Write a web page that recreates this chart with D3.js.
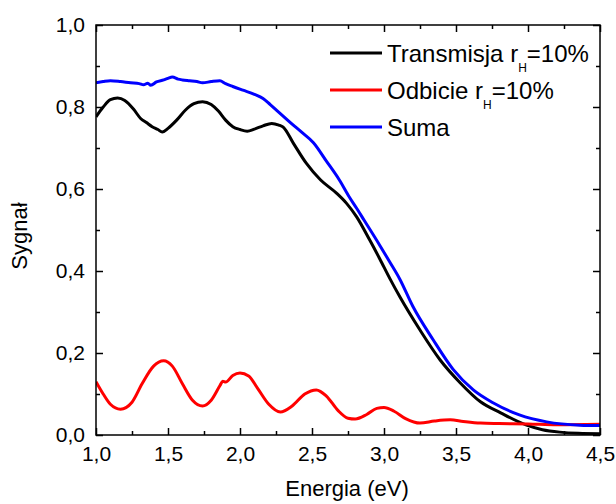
<!DOCTYPE html>
<html>
<head>
<meta charset="utf-8">
<script src="https://cdn.jsdelivr.net/npm/d3@7"></script>
<style>
  body { margin: 0; background: #fff; }
  svg text { font-family: "Liberation Sans", Arial, sans-serif; fill: #000; }
</style>
</head>
<body>
<div id="chart"></div>
<script>
// Transmisja (black)
var transE = [1.0, 1.05, 1.1, 1.15, 1.2, 1.26, 1.31, 1.35, 1.39, 1.43, 1.46, 1.5, 1.56, 1.62, 1.68, 1.74, 1.8, 1.85, 1.9, 1.95, 2.0, 2.05, 2.1, 2.16, 2.22, 2.27, 2.3, 2.37, 2.46, 2.56, 2.67, 2.74, 2.81, 2.9, 2.97, 3.04, 3.11, 3.25, 3.39, 3.53, 3.67, 3.81, 3.99, 4.1, 4.22, 4.35, 4.5];
var transS = [0.776, 0.8, 0.818, 0.822, 0.816, 0.795, 0.772, 0.762, 0.752, 0.745, 0.739, 0.748, 0.768, 0.792, 0.808, 0.813, 0.806, 0.79, 0.768, 0.752, 0.745, 0.741, 0.746, 0.754, 0.76, 0.756, 0.751, 0.712, 0.663, 0.622, 0.59, 0.565, 0.532, 0.476, 0.43, 0.382, 0.337, 0.256, 0.183, 0.127, 0.081, 0.054, 0.024, 0.013, 0.007, 0.004, 0.003];

// Odbicie (red)
var odbE = [1.0, 1.05, 1.1, 1.17, 1.25, 1.32, 1.4, 1.47, 1.53, 1.6, 1.67, 1.74, 1.8, 1.86, 1.88, 1.9, 1.95, 2.0, 2.06, 2.12, 2.2, 2.28, 2.36, 2.45, 2.53, 2.6, 2.68, 2.75, 2.8, 2.88, 2.95, 3.0, 3.07, 3.15, 3.25, 3.35, 3.46, 3.55, 3.67, 3.8, 4.0, 4.2, 4.5];
var odbS = [0.13, 0.1, 0.075, 0.063, 0.08, 0.125, 0.168, 0.181, 0.168, 0.125, 0.085, 0.071, 0.085, 0.12, 0.131, 0.129, 0.145, 0.151, 0.144, 0.115, 0.075, 0.056, 0.07, 0.1, 0.11, 0.095, 0.06, 0.041, 0.039, 0.05, 0.065, 0.067, 0.058, 0.04, 0.029, 0.034, 0.037, 0.033, 0.029, 0.028, 0.027, 0.025, 0.026];

// Suma (blue)
var sumaE = [1.0, 1.05, 1.1, 1.17, 1.24, 1.3, 1.33, 1.36, 1.38, 1.42, 1.47, 1.5, 1.53, 1.57, 1.6, 1.65, 1.7, 1.74, 1.8, 1.86, 1.9, 1.95, 2.02, 2.1, 2.16, 2.21, 2.28, 2.35, 2.43, 2.51, 2.6, 2.69, 2.76, 2.81, 2.86, 2.97, 3.04, 3.11, 3.2, 3.34, 3.48, 3.62, 3.76, 3.94, 4.13, 4.36, 4.5];
var sumaS = [0.859, 0.862, 0.864, 0.862, 0.859, 0.857, 0.854, 0.858, 0.853, 0.861, 0.866, 0.87, 0.873, 0.868, 0.866, 0.864, 0.862, 0.859, 0.862, 0.864, 0.857, 0.85, 0.841, 0.831, 0.821, 0.806, 0.784, 0.762, 0.738, 0.713, 0.668, 0.622, 0.58, 0.553, 0.525, 0.463, 0.422, 0.38, 0.314, 0.233, 0.16, 0.11, 0.078, 0.049, 0.032, 0.024, 0.023];

var xTicks = [1.0, 1.5, 2.0, 2.5, 3.0, 3.5, 4.0, 4.5];
var yTicks = [0.0, 0.2, 0.4, 0.6, 0.8, 1.0];

var series = [
  { name: "Transmisja r", sub: "H", tail: "=10%", color: "#000000", e: transE, s: transS },
  { name: "Odbicie r", sub: "H", tail: "=10%", color: "#ff0000", e: odbE, s: odbS },
  { name: "Suma", sub: "", tail: "", color: "#0000ff", e: sumaE, s: sumaS }
];

var W = 616, H = 504;
var margin = { top: 25, right: 16, bottom: 69, left: 96 };
var w = W - margin.left - margin.right;
var h = H - margin.top - margin.bottom;

var svg = d3.select("#chart").append("svg")
  .attr("width", W)
  .attr("height", H);

var g = svg.append("g")
  .attr("transform", "translate(" + margin.left + "," + margin.top + ")");

var x = d3.scaleLinear().domain([1.0, 4.5]).range([0, w]);
var y = d3.scaleLinear().domain([0, 1.0]).range([h, 0]);

var fmt = function(d) { return d3.format(".1f")(d).replace(".", ","); };

// minor tick values
var xMinor = d3.range(1.25, 4.5, 0.5);
var yMinor = d3.range(0.1, 1.0, 0.2);

// clip the data lines to the plot area
g.append("clipPath").attr("id", "clip")
  .append("rect").attr("width", w).attr("height", h);

var line = d3.line()
  .x(function(d) { return x(d[0]); })
  .y(function(d) { return y(d[1]); })
  .curve(d3.curveMonotoneX);

series.forEach(function(sr) {
  g.append("path")
    .datum(d3.zip(sr.e, sr.s))
    .attr("clip-path", "url(#clip)")
    .attr("fill", "none")
    .attr("stroke", sr.color)
    .attr("stroke-width", 3)
    .attr("stroke-linejoin", "round")
    .attr("d", line);
});

// axes (ticks inward)
function styleAxis(sel) {
  sel.select(".domain").remove();
  sel.selectAll("line").attr("stroke", "#000").attr("stroke-width", 1.5);
  sel.selectAll("text").style("font-size", "21px").style("font-family", "'Liberation Sans', Arial, sans-serif");
}

var xAxis = g.append("g").attr("transform", "translate(0," + h + ")")
  .call(d3.axisBottom(x).tickValues(xTicks).tickFormat(fmt).tickSizeInner(-7).tickPadding(11));
styleAxis(xAxis);
var xAxisMinor = g.append("g").attr("transform", "translate(0," + h + ")")
  .call(d3.axisBottom(x).tickValues(xMinor).tickFormat("").tickSizeInner(-4));
styleAxis(xAxisMinor);

var xTop = g.append("g")
  .call(d3.axisTop(x).tickValues(xTicks).tickFormat("").tickSizeInner(-7));
styleAxis(xTop);
var xTopMinor = g.append("g")
  .call(d3.axisTop(x).tickValues(xMinor).tickFormat("").tickSizeInner(-4));
styleAxis(xTopMinor);

var yAxis = g.append("g")
  .call(d3.axisLeft(y).tickValues(yTicks).tickFormat(fmt).tickSizeInner(-7).tickPadding(11));
styleAxis(yAxis);
var yAxisMinor = g.append("g")
  .call(d3.axisLeft(y).tickValues(yMinor).tickFormat("").tickSizeInner(-4));
styleAxis(yAxisMinor);

var yRight = g.append("g").attr("transform", "translate(" + w + ",0)")
  .call(d3.axisRight(y).tickValues(yTicks).tickFormat("").tickSizeInner(-7));
styleAxis(yRight);
var yRightMinor = g.append("g").attr("transform", "translate(" + w + ",0)")
  .call(d3.axisRight(y).tickValues(yMinor).tickFormat("").tickSizeInner(-4));
styleAxis(yRightMinor);

// frame
g.append("rect")
  .attr("width", w).attr("height", h)
  .attr("fill", "none")
  .attr("stroke", "#000")
  .attr("stroke-width", 1.5);

// axis titles
svg.append("text")
  .attr("x", 347)
  .attr("y", 496)
  .attr("text-anchor", "middle")
  .style("font-size", "22px")
  .text("Energia (eV)");

svg.append("text")
  .attr("transform", "translate(27,236) rotate(-90)")
  .attr("text-anchor", "middle")
  .style("font-size", "22px")
  .text("Sygnał");

// legend
var legend = svg.append("g").attr("transform", "translate(330,53)");
series.forEach(function(sr, i) {
  var row = legend.append("g").attr("transform", "translate(0," + (i * 37) + ")");
  row.append("line")
    .attr("x1", 0).attr("x2", 52)
    .attr("y1", 0).attr("y2", 0)
    .attr("stroke", sr.color)
    .attr("stroke-width", 3);
  var t = row.append("text")
    .attr("x", 57)
    .attr("y", 8.5)
    .style("font-size", "24px");
  t.append("tspan").text(sr.name);
  if (sr.sub) {
    t.append("tspan").attr("dy", 10).style("font-size", "12px").text(sr.sub);
    t.append("tspan").attr("dy", -10).text(sr.tail);
  }
});
</script>
</body>
</html>
